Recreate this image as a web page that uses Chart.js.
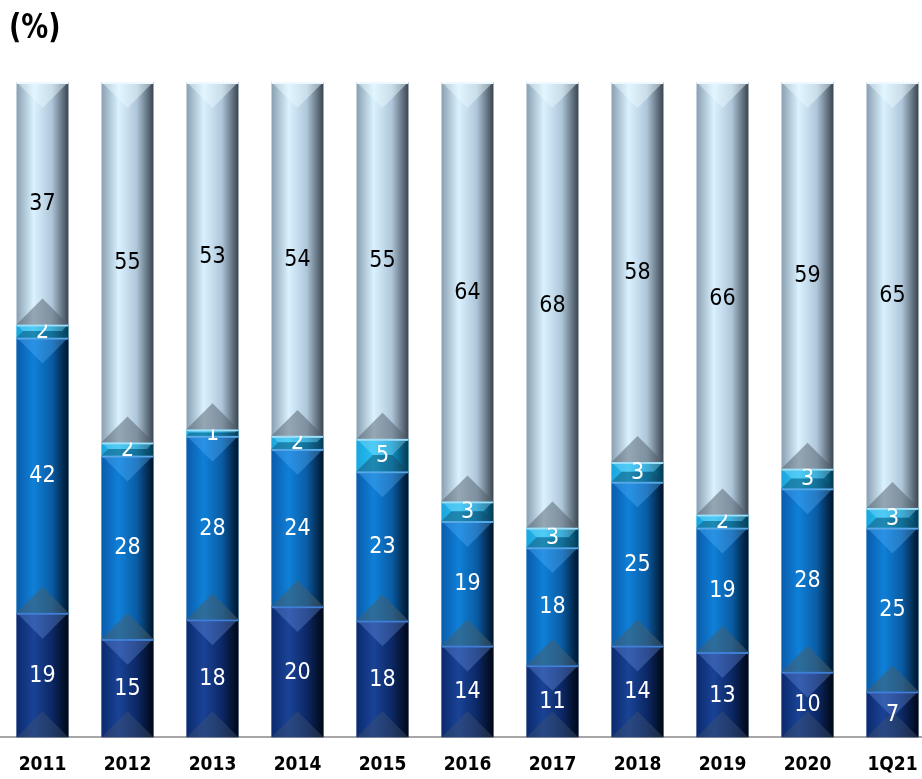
<!DOCTYPE html>
<html lang="es">
<head>
<meta charset="utf-8">
<title>Composición (%)</title>
<script src="https://cdn.jsdelivr.net/npm/chart.js@4.4.1/dist/chart.umd.min.js"></script>
<style>
    html, body { margin: 0; padding: 0; background: #fff; overflow: hidden; }
    #marco { position: relative; width: 922px; height: 779px; overflow: hidden; }
    #titulo {
        position: absolute; left: 9px; top: 6px;
        font: bold 34px "DejaVu Sans Condensed", "DejaVu Sans", sans-serif;
        color: #000;
        transform: scaleX(0.88);
        transform-origin: left top;
    }
    #lienzo { position: absolute; left: 0; top: 0; width: 935px; height: 797px; }
</style>
</head>
<body>
<div id="marco">
    <div id="lienzo"><canvas id="grafico"></canvas></div>
    <div id="titulo">(%)</div>
</div>
<script>
// Periodos y series (de abajo hacia arriba en cada barra)
const periodos = ['2011', '2012', '2013', '2014', '2015', '2016', '2017', '2018', '2019', '2020', '1Q21'];
const serieOscura = [19, 15, 18, 20, 18, 14, 11, 14, 13, 10, 7];
const serieMedia = [42, 28, 28, 24, 23, 19, 18, 25, 19, 28, 25];
const serieCian = [2, 2, 1, 2, 5, 3, 3, 3, 2, 3, 3];
const serieClara = [37, 55, 53, 54, 55, 64, 68, 58, 66, 59, 65];

const series = [serieOscura, serieMedia, serieCian, serieClara];

// Cada barra se muestra al 100% (como un apilado porcentual)
const totales = periodos.map((_, i) => series.reduce((s, serie) => s + serie[i], 0));
const comoPorcentaje = serie => serie.map((v, i) => v / totales[i] * 100);

// Estilo de cada tramo: degradado horizontal, biseles y color de etiqueta
const estilos = [
    { base: '#163c8c', cuerpo: ['#0b2a6e', '#1a4396', '#0c2866', '#000814'],
      biselSup: 'rgba(110,150,230,0.35)', biselInf: 'rgba(60,80,110,0.45)', filo: '#3f7fd6', texto: '#fff' },
    { base: '#0e78cc', cuerpo: ['#0a5cac', '#0f80d8', '#0a5ca4', '#00142a'],
      biselSup: 'rgba(90,180,255,0.35)', biselInf: 'rgba(70,95,110,0.55)', filo: '#58a8e8', texto: '#fff' },
    { base: '#22b6ee', cuerpo: ['#1aa4dc', '#28bff2', '#1192c6', '#023850'],
      biselSup: 'rgba(150,230,255,0.35)', biselInf: 'rgba(20,70,100,0.45)', filo: '#9fe0f8', texto: '#fff' },
    { base: '#cfe6f4', cuerpo: ['#8aa0b2', '#daf2ff', '#aec6d9', '#3a4550'],
      biselSup: 'rgba(235,250,255,0.45)', biselInf: 'rgba(80,92,104,0.5)', filo: '#eef9ff', texto: '#000' }
];

// Dibuja el cuerpo con relieve y los valores sobre cada tramo
const relieveYValores = {
    id: 'relieveYValores',
    afterDatasetsDraw(chart) {
        const ctx = chart.ctx;
        ctx.save();
        chart.data.datasets.forEach((ds, i) => {
            const meta = chart.getDatasetMeta(i);
            const est = estilos[i];
            meta.data.forEach((barra, j) => {
                const { x, y, base, width } = barra.getProps(['x', 'y', 'base', 'width'], true);
                const izq = x - width / 2, der = x + width / 2;
                const arriba = Math.min(y, base), abajo = Math.max(y, base);
                const alto = abajo - arriba;
                if (alto <= 0) return;

                const g = ctx.createLinearGradient(izq, 0, der, 0);
                g.addColorStop(0, est.cuerpo[0]);
                g.addColorStop(0.33, est.cuerpo[1]);
                g.addColorStop(0.68, est.cuerpo[2]);
                g.addColorStop(1, est.cuerpo[3]);
                ctx.fillStyle = g;
                ctx.fillRect(izq, arriba, width, alto);

                const d = Math.min(width / 2, alto / 2);
                // bisel superior
                ctx.beginPath();
                ctx.moveTo(izq, arriba);
                ctx.lineTo(der, arriba);
                ctx.lineTo(der - d, arriba + d);
                ctx.lineTo(izq + d, arriba + d);
                ctx.closePath();
                ctx.fillStyle = est.biselSup;
                ctx.fill();
                // bisel inferior
                ctx.beginPath();
                ctx.moveTo(izq, abajo);
                ctx.lineTo(der, abajo);
                ctx.lineTo(der - d, abajo - d);
                ctx.lineTo(izq + d, abajo - d);
                ctx.closePath();
                ctx.fillStyle = est.biselInf;
                ctx.fill();
                // filo luminoso en el borde superior
                ctx.fillStyle = est.filo;
                ctx.fillRect(izq, arriba, width, 2);

                ctx.fillStyle = est.texto;
                ctx.font = '23px "DejaVu Sans Condensed", "DejaVu Sans", sans-serif';
                ctx.textAlign = 'center';
                ctx.textBaseline = 'middle';
                ctx.fillText(String(series[i][j]), x, (arriba + abajo) / 2 + 1);
            });
        });
        ctx.restore();
    }
};

const ctxGrafico = document.getElementById('grafico').getContext('2d');
const grafico = new Chart(ctxGrafico, {
    type: 'bar',
    data: {
        labels: periodos,
        datasets: series.map((serie, i) => ({
            data: comoPorcentaje(serie),
            backgroundColor: estilos[i].base,
            borderWidth: 0,
            categoryPercentage: 1,
            barPercentage: 0.61
        }))
    },
    options: {
        responsive: true,
        maintainAspectRatio: false,
        animation: false,
        layout: { padding: { top: 82, bottom: 5, left: 0, right: 0 } },
        plugins: {
            legend: { display: false },
            tooltip: { enabled: false }
        },
        scales: {
            x: {
                stacked: true,
                grid: { display: false, drawTicks: false },
                border: { display: true, color: '#a6a6a6', width: 2 },
                ticks: {
                    color: '#000',
                    padding: 16,
                    font: { family: '"DejaVu Sans Condensed", "DejaVu Sans", sans-serif', size: 19, weight: 'bold' }
                }
            },
            y: {
                stacked: true,
                display: false,
                min: 0,
                max: 100
            }
        }
    },
    plugins: [relieveYValores]
});
</script>
</body>
</html>
